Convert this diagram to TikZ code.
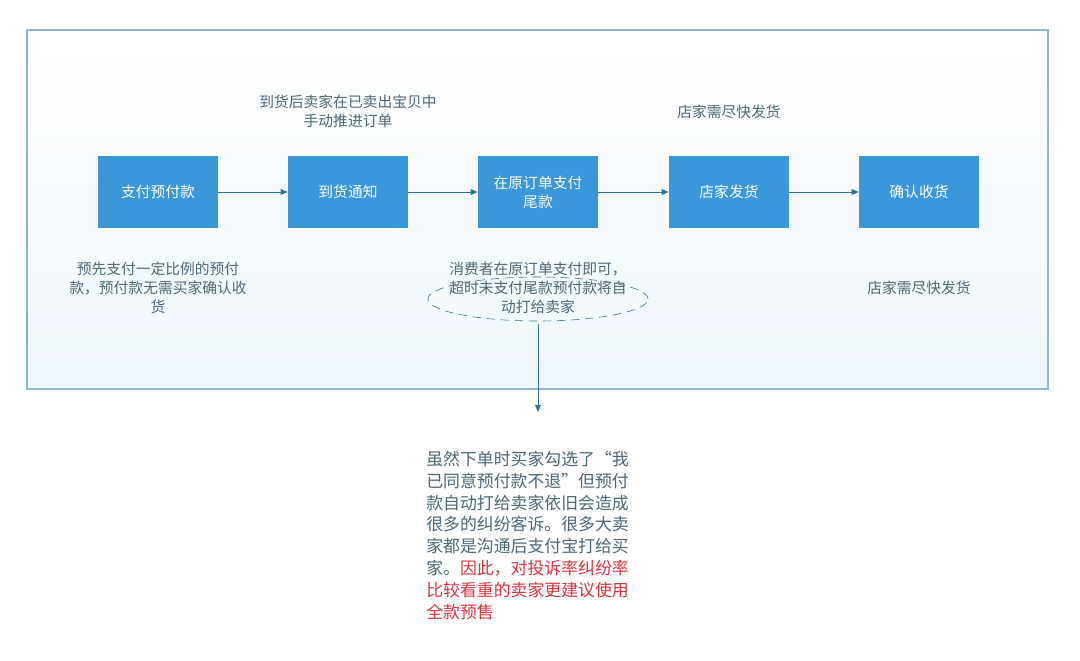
\documentclass[tikz,border=0pt]{standalone}
\usepackage{fontspec}
\setmainfont{Noto Sans CJK SC}
\usetikzlibrary{arrows.meta,positioning,shapes.geometric}
\definecolor{boxblue}{HTML}{3A97D9}
\definecolor{panelline}{HTML}{8FB8CF}
\definecolor{lineblue}{HTML}{2F6F94}
\definecolor{txtgray}{HTML}{4E6775}
\definecolor{txtred}{HTML}{D9363E}
\begin{document}
\begin{tikzpicture}[x=0.025cm, y=-0.025cm,
  stepbox/.style={rectangle, fill=boxblue, text=white, minimum width=3cm, minimum height=1.8cm, text width=2.6cm, align=center, inner sep=0pt},
  note/.style={text=txtgray, align=center, inner sep=0pt},
  flow/.style={-{Triangle[length=5pt,width=4pt]}, lineblue, line width=0.7pt},
  font=\fontsize{10.5pt}{13.6pt}\selectfont,
  ]
  \useasboundingbox (0,0) rectangle (1080,660);
  \fill[white] (0,0) rectangle (1080,660);
  %panel
  \shade[top color=white, bottom color=boxblue!8] (27,30) rectangle (1048,389);
  \draw[panelline, line width=1pt] (27,30) rectangle (1048,389);
  %nodes
  \node[stepbox] (pay) at (158,192) {支付预付款};
  \node[stepbox] (notice) at (348,192) {到货通知};
  \node[stepbox] (rest) at (538,192) {在原订单支付\\尾款};
  \node[stepbox] (ship) at (729,192) {店家发货};
  \node[stepbox] (confirm) at (919,192) {确认收货};
  \node[note] (notetop) at (348,111) {到货后卖家在已卖出宝贝中\\手动推进订单};
  \node[note] (noteship) at (729,112) {店家需尽快发货};
  \node[note] (notepay) at (158,288) {预先支付一定比例的预付\\款，预付款无需买家确认收\\货};
  \node[note] (noteconfirm) at (919,288) {店家需尽快发货};
  \node[ellipse, draw=lineblue, dash pattern=on 6pt off 4pt, minimum width=5.5cm, minimum height=1.1cm] (ring) at (538,299) {};
  \node[note] (noterest) at (538,288) {消费者在原订单支付即可，\\超时未支付尾款预付款将自\\动打给卖家};
  \coordinate (drop) at (538,412);
  \node[note, anchor=north west, align=left, font=\fontsize{12pt}{15.5pt}\selectfont] (warn) at (426,451) {虽然下单时买家勾选了“我\\已同意预付款不退”但预付\\款自动打给卖家依旧会造成\\很多的纠纷客诉。很多大卖\\家都是沟通后支付宝打给买\\家。\textcolor{txtred}{因此，对投诉率纠纷率}\\\textcolor{txtred}{比较看重的卖家更建议使用}\\\textcolor{txtred}{全款预售}};
  %edges
  \draw[flow] (pay) -- (notice);
  \draw[flow] (notice) -- (rest);
  \draw[flow] (rest) -- (ship);
  \draw[flow] (ship) -- (confirm);
  \draw[flow] (ring.south) ++(0,-2pt) -- (drop);
\end{tikzpicture}
\end{document}
